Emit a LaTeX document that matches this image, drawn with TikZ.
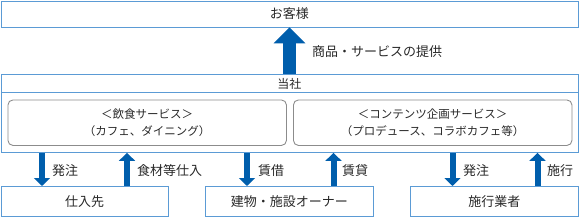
\documentclass[tikz,border=0pt]{standalone}
\usepackage{fontspec}
\setmainfont{Noto Sans CJK JP}
\usetikzlibrary{arrows.meta}
\definecolor{boxblue}{RGB}{91,155,213}
\definecolor{arrblue}{RGB}{0,94,172}
\definecolor{rgrey}{RGB}{140,140,140}
\definecolor{txt}{RGB}{40,40,40}
\begin{document}
\begin{tikzpicture}[x=1pt,y=-1pt,
  ebox/.style={draw=boxblue, line width=0.9pt, inner sep=0pt, anchor=north west, text=txt,
    font=\fontsize{13}{15}\selectfont},
  rbox/.style={draw=rgrey, line width=0.9pt, rounded corners=5pt, anchor=north west, inner sep=0pt,
    align=center, text=txt, font=\fontsize{11.5}{17}\selectfont},
  bigarrow/.style={draw=arrblue, line width=13pt, -{Triangle[width=31pt,length=16pt,fill=arrblue]}},
  smallarrow/.style={draw=arrblue, line width=6pt, -{Triangle[width=16pt,length=8pt,fill=arrblue]}},
  lbl/.style={anchor=west, inner sep=0pt, text=txt, font=\fontsize{13}{15}\selectfont}]
\useasboundingbox (0,0) rectangle (579,217);
% top customer box
\node[ebox, minimum width=577pt, minimum height=26pt] (cust) at (0.5,0.5) {お客様};
% company box
\node[ebox, minimum width=577pt, minimum height=78pt] (co) at (0.5,74) {};
\node[ebox, minimum width=577pt, minimum height=18pt, font=\fontsize{12}{14}\selectfont] (hdr) at (0.5,74) {当社};
\node[rbox, minimum width=278.5pt, minimum height=45.5pt] (food) at (7.5,99.5)
  {＜飲食サービス＞\\（カフェ、ダイニング）};
\node[rbox, minimum width=278.5pt, minimum height=45.5pt] (cont) at (293,99.5)
  {＜コンテンツ企画サービス＞\\（プロデュース、コラボカフェ等）};
% bottom boxes
\node[ebox, minimum width=167.5pt, minimum height=30pt] (sup) at (0.5,186) {仕入先};
\node[ebox, minimum width=168pt, minimum height=30pt] (own) at (205,186) {建物・施設オーナー};
\node[ebox, minimum width=168pt, minimum height=30pt] (con) at (410,186) {施行業者};
% big arrow
\coordinate (x0) at (289.5,0);
\draw[bigarrow] (hdr.north -| x0) -- (cust.south -| x0);
\node[lbl] (l0) at (312,52) {商品・サービスの提供};
% small arrows
\coordinate (x1) at (42,0);
\coordinate (x2) at (127,0);
\coordinate (x3) at (247,0);
\coordinate (x4) at (333.5,0);
\coordinate (x5) at (452.5,0);
\coordinate (x6) at (537.5,0);
\draw[smallarrow] (co.south -| x1) -- (sup.north -| x1);
\draw[smallarrow] (sup.north -| x2) -- (co.south -| x2);
\draw[smallarrow] (co.south -| x3) -- (own.north -| x3);
\draw[smallarrow] (own.north -| x4) -- (co.south -| x4);
\draw[smallarrow] (co.south -| x5) -- (con.north -| x5);
\draw[smallarrow] (con.north -| x6) -- (co.south -| x6);
\node[lbl] (l1) at (52,171) {発注};
\node[lbl] (l2) at (137,171) {食材等仕入};
\node[lbl] (l3) at (258,171) {賃借};
\node[lbl] (l4) at (342,171) {賃貸};
\node[lbl] (l5) at (463,171) {発注};
\node[lbl] (l6) at (547,171) {施行};
\end{tikzpicture}
\end{document}
